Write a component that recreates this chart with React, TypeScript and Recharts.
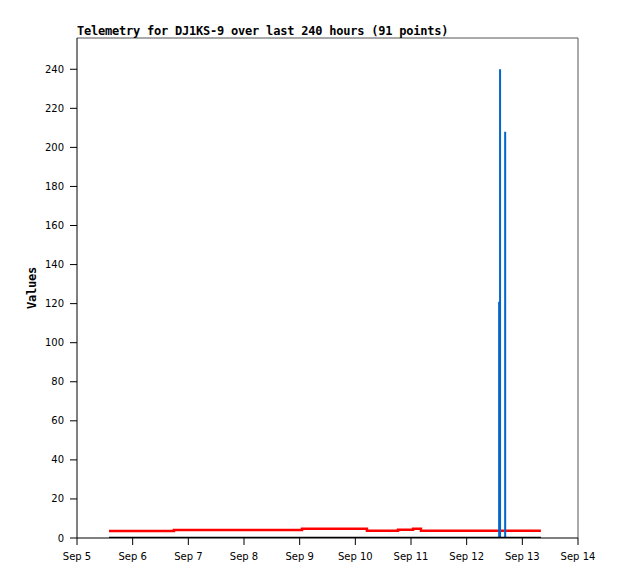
import React from 'react';
import { LineChart, Line, XAxis, YAxis, ReferenceLine } from 'recharts';

// hours since Sep 5 00:00
const xTicks = [0, 24, 48, 72, 96, 120, 144, 168, 192, 216];
const xTickLabels = ['Sep 5', 'Sep 6', 'Sep 7', 'Sep 8', 'Sep 9', 'Sep 10', 'Sep 11', 'Sep 12', 'Sep 13', 'Sep 14'];
const yTicks = [0, 20, 40, 60, 80, 100, 120, 140, 160, 180, 200, 220, 240];

const redTimes = [13.8, 41.8, 97.0, 125.0, 138.4, 144.9, 148.3, 200.0];
const redValues = [3.6, 4.1, 4.8, 3.7, 4.2, 4.8, 3.7, 3.7];

const blueTimes = [13.8, 182.0, 182.0, 182.0, 182.4, 182.4, 182.4, 184.6, 184.6, 184.6, 200.0];
const blueValues = [0, 0, 121, 0, 0, 240, 0, 0, 208, 0, 0];

const blackTimes = [13.8, 200.0];
const blackValues = [0, 0];

const toRows = (ts: number[], vs: number[]) => ts.map((t, i) => ({ t, v: vs[i] }));
const redData = toRows(redTimes, redValues);
const blueData = toRows(blueTimes, blueValues);
const blackData = toRows(blackTimes, blackValues);

const tickFont = { fontFamily: 'DejaVu Sans', fontSize: 10, fill: '#000' };
const titleFont: React.CSSProperties = {
  fontFamily: '"DejaVu Sans Mono", monospace',
  fontWeight: 'bold',
  fontSize: 12,
  letterSpacing: '-0.22px',
  color: '#000',
  whiteSpace: 'nowrap',
  lineHeight: '12px',
};

export default function App() {
  return (
    <div style={{ position: 'relative', width: 610, height: 571 }}>
      <LineChart
        width={610}
        height={571}
        margin={{ top: 30, right: 40, left: 9, bottom: 11 }}
      >
        <XAxis
          type="number"
          dataKey="t"
          domain={[0, 216]}
          ticks={xTicks}
          tickFormatter={(v: number) => xTickLabels[xTicks.indexOf(v)] ?? ''}
          tick={tickFont}
          tickSize={7}
          tickMargin={8}
          height={30}
          stroke="#000"
          allowDataOverflow
        />
        <YAxis
          type="number"
          domain={[0, 256]}
          ticks={yTicks}
          tick={tickFont}
          tickSize={7}
          tickMargin={6}
          width={60}
          stroke="#000"
          allowDataOverflow
        />
        <ReferenceLine y={256} stroke="#555" strokeWidth={1} />
        <ReferenceLine x={216} stroke="#555" strokeWidth={1} />
        <Line data={redData} dataKey="v" type="stepAfter" stroke="#ff0000" strokeWidth={2.5} dot={false} isAnimationActive={false} />
        <Line data={blueData} dataKey="v" type="linear" stroke="#0066cc" strokeWidth={2} dot={false} isAnimationActive={false} />
        <Line data={blackData} dataKey="v" type="linear" stroke="#000" strokeWidth={2.5} dot={false} isAnimationActive={false} />
      </LineChart>
      <div style={{ ...titleFont, position: 'absolute', left: 69, top: 17 }}>
        Telemetry for DJ1KS-9 over last 240 hours (91 points)
      </div>
      <div
        style={{
          ...titleFont,
          position: 'absolute',
          left: 23.5,
          top: 280,
          transformOrigin: '0 0',
          transform: 'rotate(-90deg) translate(-50%, -50%)',
        }}
      >
        Values
      </div>
    </div>
  );
}
